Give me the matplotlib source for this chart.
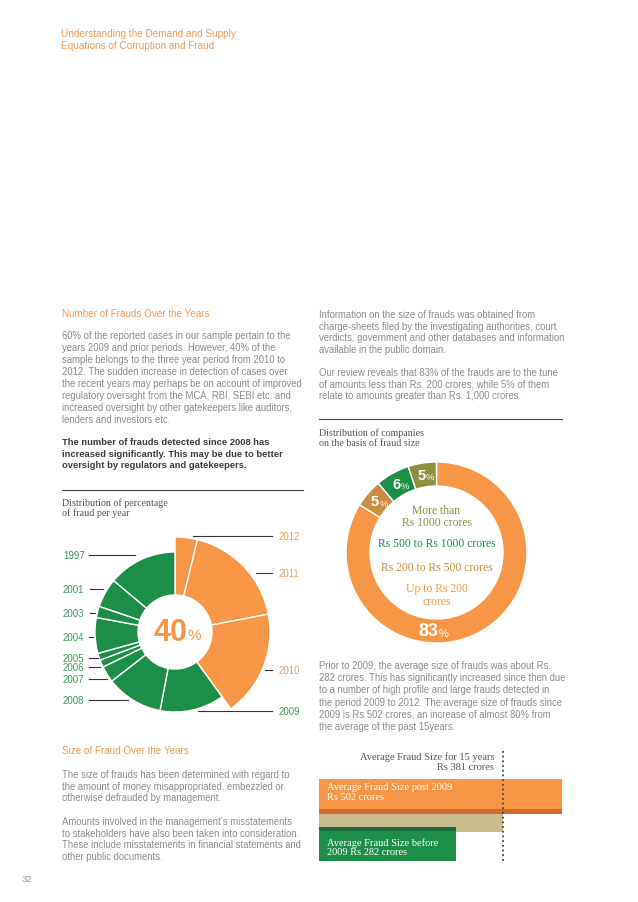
import numpy as np
import matplotlib
matplotlib.use('Agg')
import matplotlib.pyplot as plt

# --- data -------------------------------------------------------------
years = ['2012', '2011', '2010', '2009', '2008', '2007',
         '2006', '2005', '2004', '2003', '2001', '1997']
year_share = [3.8, 18.2, 18.0, 13.0, 11.5, 3.3, 1.5, 1.4, 7.2, 2.3, 5.9, 13.9]
recent_share = 40

size_classes = ['Up to Rs 200 crores', 'Rs 200 to Rs 500 crores',
                'Rs 500 to Rs 1000 crores', 'More than Rs 1000 crores']
size_share = [83, 5, 6, 5]

avg_labels = ['Average Fraud Size post 2009', 'Average Fraud Size for 15 years',
              'Average Fraud Size before 2009']
avg_values = [502, 381, 282]

# --- colours / fonts --------------------------------------------------
ORANGE = '#F79646'
ORANGE_D = '#D56B2A'
GREEN = '#1C8E47'
GREEN_D = '#15703A'
KHAKI = '#C8BD8F'
TAN = '#C98E40'
OLIVE = '#8E9142'
HEAD = '#EE9A57'
GREY = '#8C8C8C'
DARK = '#3C3C3C'
LBL_GREEN = '#3E9A60'
LBL_ORANGE = '#F0A060'
SANS = 'Liberation Sans'
SERIF = 'Liberation Serif'
BODY = 6.85

W, H = 638, 903
fig = plt.figure(figsize=(W / 100, H / 100), dpi=100)
fig.patch.set_facecolor('white')

# page axes in pixel coordinates, kept on top of the chart axes
pg = fig.add_axes([0, 0, 1, 1])
pg.set_xlim(0, W)
pg.set_ylim(H, 0)
pg.axis('off')
pg.set_zorder(10)
pg.patch.set_visible(False)


def txt(x, y, s, size=BODY, color=GREY, family=SANS, **kw):
    pg.text(x, y, s, fontsize=size, color=color, family=family,
            va='center', **kw)


def para(x, y0, lines, step=11.6, **kw):
    for i, s in enumerate(lines):
        txt(x, y0 + i * step, s, **kw)


# header
para(61, 34, ['Understanding the Demand and Supply',
              'Equations of Corruption and Fraud'], step=12, size=7.2, color=HEAD)

# left column
txt(62, 314, 'Number of Frauds Over the Years', size=7.1, color=HEAD)
para(62, 336, ['60% of the reported cases in our sample pertain to the',
               'years 2009 and prior periods. However, 40% of the',
               'sample belongs to the three year period from 2010 to',
               '2012. The sudden increase in detection of cases over',
               'the recent years may perhaps be on account of improved',
               'regulatory oversight from the MCA, RBI, SEBI etc. and',
               'increased oversight by other gatekeepers like auditors,',
               'lenders and investors etc.'], step=12)
para(62, 443, ['The number of frauds detected since 2008 has',
               'increased significantly. This may be due to better',
               'oversight by regulators and gatekeepers.'],
     step=11.3, size=6.75, color=DARK, weight='bold')
pg.plot([62, 303], [491, 491], color='#444444', lw=0.8)
para(62, 503, ['Distribution of percentage', 'of fraud per year'],
     step=10.5, size=7.2, color='#555555', family=SERIF)

txt(62, 751, 'Size of Fraud Over the Years', size=7.1, color=HEAD)
para(62, 775, ['The size of frauds has been determined with regard to',
               'the amount of money misappropriated, embezzled or',
               'otherwise defrauded by management.'])
para(62, 822, ['Amounts involved in the management\u2019s misstatements',
               'to stakeholders have also been taken into consideration.',
               'These include misstatements in financial statements and',
               'other public documents.'])
txt(22, 880, '32', size=6.8, color='#9A9A9A')

# right column
para(319, 315, ['Information on the size of frauds was obtained from',
                'charge-sheets filed by the investigating authorities, court',
                'verdicts, government and other databases and information',
                'available in the public domain.'])
para(319, 373, ['Our review reveals that 83% of the frauds are to the tune',
                'of amounts less than Rs. 200 crores, while 5% of them',
                'relate to amounts greater than Rs. 1,000 crores.'])
pg.plot([319, 562], [420, 420], color='#444444', lw=0.8)
para(319, 433, ['Distribution of companies', 'on the basis of fraud size'],
     step=10.5, size=7.2, color='#555555', family=SERIF)
para(319, 666, ['Prior to 2009, the average size of frauds was about Rs.',
                '282 crores. This has significantly increased since then due',
                'to a number of high profile and large frauds detected in',
                'the period 2009 to 2012. The average size of frauds since',
                '2009 is Rs 502 crores, an increase of almost 80% from',
                'the average of the past 15years.'], step=12.2)

# --- left chart: polar area pie --------------------------------------
cx, cy, R = 175, 633, 100
pax = fig.add_axes([(cx - R) / W, (H - cy - R) / H, 2 * R / W, 2 * R / H],
                   projection='polar')
pax.set_theta_zero_location('N')
pax.set_theta_direction(-1)
pax.set_ylim(0, R)
pax.axis('off')
hole = 37
share = np.array(year_share)
widths = share / share.sum() * 2 * np.pi
starts = np.concatenate([[0], np.cumsum(widths)[:-1]])
recent = [int(y) >= 2010 for y in years]
outer = [95 if r else 80 for r in recent]
pax.bar(starts, np.array(outer) - hole, width=widths, bottom=hole,
        align='edge', color=[ORANGE if r else GREEN for r in recent],
        edgecolor='white', linewidth=1.0)

pg.text(cx + 12, cy, str(recent_share), fontsize=22, color=ORANGE,
        family=SANS, weight='bold', ha='right', va='center')
pg.text(cx + 12, cy + 3, '%', fontsize=11, color=ORANGE, family=SANS,
        ha='left', va='center')

# year call-outs: (label y, line x0, line x1)
right_calls = {'2012': (537, 193, 272), '2011': (574, 256, 272),
               '2010': (671, 265, 272), '2009': (712, 198, 272)}
left_calls = {'1997': (556, 89, 135), '2001': (590, 90, 103),
              '2003': (614, 90, 95), '2004': (638, 89, 93),
              '2005': (659, 89, 98), '2006': (668, 89, 100),
              '2007': (680, 89, 107), '2008': (701, 89, 128)}
for y, r in zip(years, recent):
    if r or y == '2009':
        ly, x0, x1 = right_calls[y]
        pg.plot([x0, x1], [ly, ly], color='#333333', lw=0.8)
        txt(279, ly, y, size=7, color=LBL_ORANGE if r else LBL_GREEN)
    else:
        ly, x0, x1 = left_calls[y]
        pg.plot([x0, x1], [ly, ly], color='#333333', lw=0.8)
        txt(63, ly, y, size=7, color=LBL_GREEN)

# --- right chart: donut ------------------------------------------------
dx, dy, dr = 436.5, 553.5, 90.5
dax = fig.add_axes([(dx - dr) / W, (H - dy - dr) / H, 2 * dr / W, 2 * dr / H])
ring_cols = [ORANGE, TAN, GREEN, OLIVE]
wedges, _ = dax.pie(size_share, colors=ring_cols, startangle=90,
                    counterclock=False,
                    wedgeprops=dict(width=24 / dr, edgecolor='white', linewidth=1))
dax.set_xlim(-1, 1)
dax.set_ylim(-1, 1)
dax.set_aspect('equal')
dax.axis('off')
rm = 1 - 12 / dr
tot = sum(size_share)
acc = 0
for i, v in enumerate(size_share):
    mid = 90 - (acc + v / 2) / tot * 360
    acc += v
    if i == 0:
        px, py = dx, dy + dr - 12
        num_size, pc_size = 13, 8
    else:
        px = dx + rm * dr * np.cos(np.radians(mid))
        py = dy - rm * dr * np.sin(np.radians(mid))
        num_size, pc_size = 10.5, 6.8
    pg.text(px + 2, py, str(v), fontsize=num_size, color='white', family=SANS,
            weight='bold', ha='right', va='center')
    pg.text(px + 2, py + 2, '%', fontsize=pc_size, color='white', family=SANS,
            ha='left', va='center')

centre_lines = [(511, 'More than', OLIVE), (523, 'Rs 1000 crores', OLIVE),
                (544, size_classes[2], GREEN), (568, size_classes[1], TAN),
                (589, 'Up to Rs 200', ORANGE), (602, 'crores', ORANGE)]
for ly, s, c in centre_lines:
    txt(dx, ly, s, size=8.4, color=c, family=SERIF, ha='center')

# --- bar chart -----------------------------------------------------------
bx0, bx1 = 319, 562
by0, by1 = 745, 870
bax = fig.add_axes([bx0 / W, (H - by1) / H, (bx1 - bx0) / W, (by1 - by0) / H])
bax.set_xlim(0, avg_values[0])
bax.set_ylim(by1, by0)
bax.axis('off')
bax.barh(824, avg_values[1], height=18, left=0, color=KHAKI)
bax.barh(797.5, avg_values[0], height=35, left=0, color=ORANGE)
bax.barh(812.5, avg_values[0], height=5, left=0, color=ORANGE_D)
bax.barh(845, avg_values[2], height=34, left=0, color=GREEN)
bax.barh(830, avg_values[2], height=4, left=0, color=GREEN_D)
bax.vlines(avg_values[1], 752, 862, colors='#444444', linewidth=1.3,
           linestyles=(0, (1, 1.6)))

LBL = 7.5
txt(494, 757, avg_labels[1], size=LBL, color='#555555', family=SERIF, ha='right')
txt(494, 768, 'Rs %d crores' % avg_values[1], size=LBL, color='#555555',
    family=SERIF, ha='right')
txt(327, 788, avg_labels[0], size=LBL, color='white', family=SERIF)
txt(327, 798, 'Rs %d crores' % avg_values[0], size=LBL, color='white', family=SERIF)
txt(327, 843, 'Average Fraud Size before', size=LBL, color='white', family=SERIF)
txt(327, 853, '2009 Rs %d crores' % avg_values[2], size=LBL, color='white',
    family=SERIF)

fig.savefig('out.png', dpi=100, facecolor='white')
